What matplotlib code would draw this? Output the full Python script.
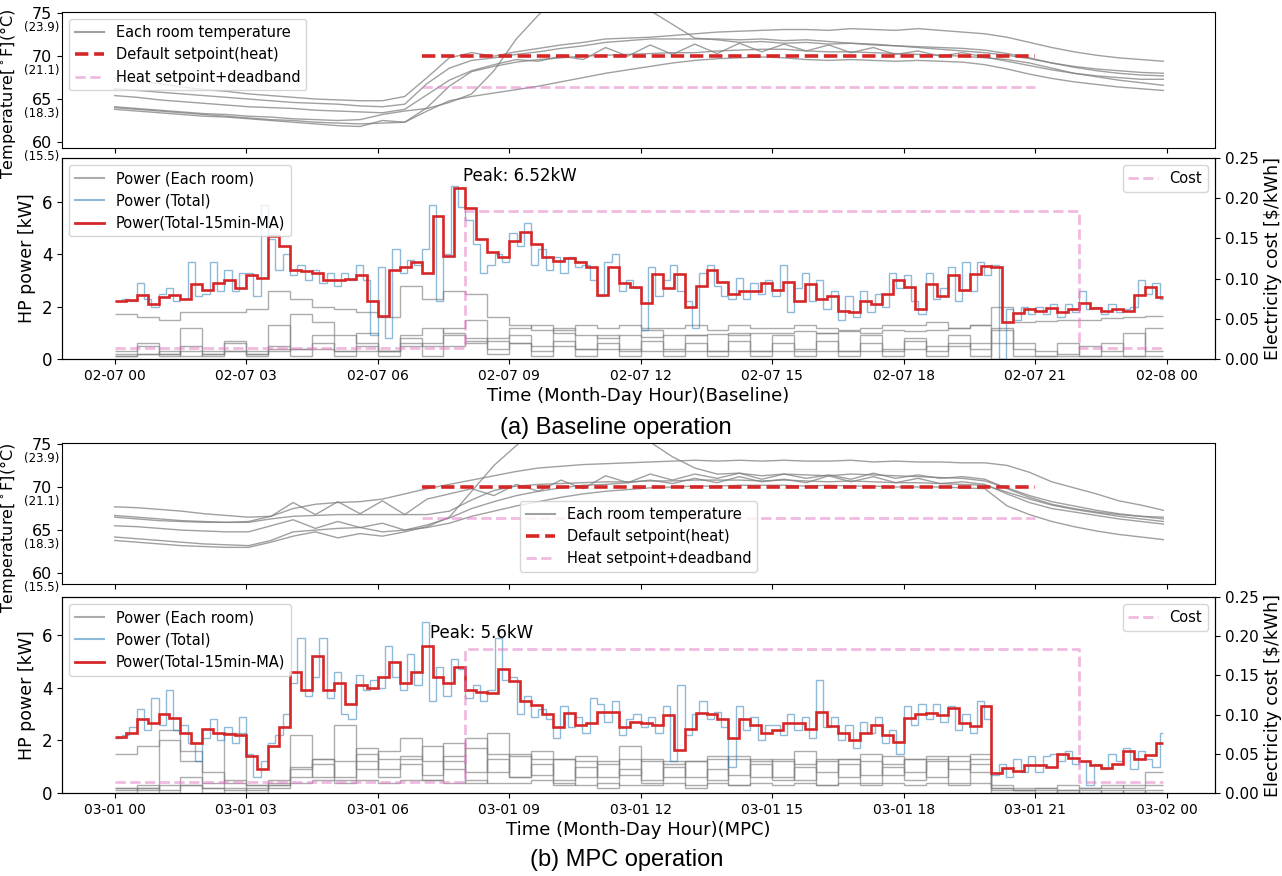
import numpy as np
import matplotlib
matplotlib.use("Agg")
import matplotlib.pyplot as plt
from matplotlib.lines import Line2D

# ---------------- data ----------------
T_END = 23.92  # last sample of the day (hours)

xtick_hours = [0, 3, 6, 9, 12, 15, 18, 21, 24]
xlabels_a = ['02-07 00', '02-07 03', '02-07 06', '02-07 09', '02-07 12',
             '02-07 15', '02-07 18', '02-07 21', '02-08 00']
xlabels_b = ['03-01 00', '03-01 03', '03-01 06', '03-01 09', '03-01 12',
             '03-01 15', '03-01 18', '03-01 21', '03-02 00']

temp_ticks = [60, 65, 70, 75]
temp_ticks_c = ['(15.5)', '(18.3)', '(21.1)', '(23.9)']

setpoint_hours = [7, 21]
setpoint_heat = 70.0
setpoint_deadband = 66.4

cost_hours = [0, 8, 22, T_END]
cost_rate = [0.014, 0.184, 0.014, 0.014]

# room temperatures, ~30 min samples  (F)
temps_a_1 = [67.4, 67.1, 66.8, 66.4, 66.1, 65.9, 65.6, 65.4, 65.2, 65.0, 64.9, 64.8,
             64.8, 65.3, 67.5, 69.8, 70.4, 70.0, 70.5, 70.9, 71.3, 71.6, 72.0, 72.1,
             72.2, 72.4, 72.6, 72.8, 72.9, 73.0, 73.1, 73.1, 73.0, 73.2, 73.1, 73.0,
             73.2, 73.0, 72.8, 72.6, 72.2, 71.6, 71.0, 70.5, 70.1, 69.8, 69.6, 69.4]
temps_a_2 = [66.2, 66.0, 65.8, 65.6, 65.4, 65.2, 65.0, 64.8, 64.6, 64.5, 64.4, 64.2,
             64.1, 64.4, 66.8, 68.6, 69.5, 69.8, 70.2, 70.5, 70.9, 71.2, 71.6, 71.8,
             72.0, 72.0, 72.0, 72.0, 71.9, 72.0, 71.8, 71.9, 71.7, 71.5, 71.4, 71.2,
             71.0, 70.8, 70.6, 70.4, 70.1, 69.7, 69.2, 68.8, 68.5, 68.3, 68.1, 68.0]
temps_a_3 = [65.4, 65.2, 64.9, 64.7, 64.5, 64.3, 64.1, 64.0, 63.9, 63.7, 63.6, 63.5,
             63.4, 63.8, 65.5, 67.2, 68.3, 69.0, 69.6, 69.4, 70.0, 69.6, 71.0, 70.0,
             71.3, 70.2, 71.4, 70.3, 71.5, 70.5, 71.4, 70.6, 71.3, 70.4, 71.0, 70.2,
             70.6, 70.0, 70.4, 69.9, 69.4, 68.9, 68.4, 68.0, 67.7, 67.5, 67.3, 67.3]
temps_a_4 = [64.0, 63.8, 63.6, 63.4, 63.2, 63.0, 62.8, 62.6, 62.5, 62.3, 62.2, 62.1,
             62.2, 62.3, 64.0, 66.5, 68.2, 68.8, 69.3, 69.6, 69.8, 70.0, 70.1, 70.2,
             70.3, 70.4, 70.4, 70.6, 70.7, 70.8, 70.8, 70.6, 70.5, 70.5, 70.4, 70.3,
             70.2, 70.1, 70.0, 69.8, 69.6, 69.2, 68.6, 68.0, 67.6, 67.2, 66.9, 66.6]
temps_a_5 = [63.8, 63.6, 63.4, 63.2, 63.0, 62.9, 62.7, 62.5, 62.3, 62.1, 61.9, 61.8,
             62.5, 62.3, 63.6, 64.8, 65.3, 65.7, 66.1, 66.5, 67.0, 67.5, 68.0, 68.4,
             68.8, 69.2, 69.5, 69.7, 69.8, 69.9, 69.8, 69.6, 69.5, 69.6, 69.5, 69.4,
             69.5, 69.4, 69.3, 69.0, 68.5, 67.9, 67.4, 67.0, 66.7, 66.4, 66.2, 66.0]
temps_a_6 = [64.1, 63.9, 63.7, 63.5, 63.3, 63.2, 63.0, 62.9, 62.7, 62.6, 62.5, 62.6,
             63.2, 63.6, 63.9, 64.6, 65.6, 68.3, 72.0, 74.8, 77.5, 78.3, 78.0, 76.8,
             75.3, 73.7, 72.1, 71.9, 71.6, 71.7, 71.5, 71.6, 71.4, 71.5, 71.3, 71.2,
             71.1, 71.0, 70.9, 70.7, 70.3, 69.8, 69.2, 68.7, 68.3, 68.0, 67.8, 67.7]

temps_b_1 = [67.7, 67.6, 67.4, 67.2, 66.9, 66.7, 66.5, 66.6, 67.5, 68.0, 68.2, 68.3,
             68.6, 69.2, 69.8, 70.3, 70.8, 71.3, 71.8, 72.2, 72.4, 72.6, 72.7, 72.8,
             72.9, 73.0, 73.1, 73.0, 73.1, 73.0, 73.1, 73.0, 73.0, 73.1, 72.9, 73.0,
             72.9, 72.9, 72.8, 72.8, 72.5, 71.7, 70.6, 69.9, 69.2, 68.4, 67.9, 67.3]
temps_b_2 = [66.7, 66.5, 66.3, 66.1, 66.0, 65.9, 66.0, 66.6, 68.2, 66.8, 68.3, 66.9,
             68.4, 66.8, 68.6, 69.2, 69.8, 69.0, 70.3, 69.5, 70.8, 69.8, 71.3, 70.5,
             71.5, 70.8, 71.5, 71.0, 71.6, 70.9, 71.5, 71.0, 71.4, 70.9, 71.6, 71.0,
             71.4, 71.0, 71.2, 70.9, 69.8, 68.8, 68.0, 67.5, 67.1, 66.8, 66.6, 66.5]
temps_b_3 = [66.5, 66.3, 66.1, 66.0, 65.9, 65.9, 65.9, 66.3, 66.6, 66.7, 66.8, 66.8,
             66.8, 66.8, 66.8, 67.2, 68.5, 69.6, 70.1, 70.3, 70.4, 70.5, 70.6, 70.6,
             70.7, 70.7, 70.8, 70.8, 70.8, 70.7, 70.8, 70.7, 70.6, 70.7, 70.6, 70.5,
             70.5, 70.4, 70.3, 70.2, 69.4, 68.6, 67.9, 67.4, 67.0, 66.6, 66.3, 66.0]
temps_b_4 = [65.5, 65.4, 65.2, 65.0, 64.9, 64.8, 64.8, 65.5, 66.2, 65.2, 66.0, 65.3,
             65.8, 65.0, 65.6, 66.4, 67.5, 68.3, 69.0, 69.5, 69.9, 70.2, 70.3, 70.5,
             70.8, 70.4, 71.0, 70.5, 71.2, 70.6, 70.9, 70.5, 71.3, 70.6, 71.2, 70.5,
             71.0, 70.4, 70.6, 70.3, 69.2, 68.2, 67.5, 67.1, 66.7, 66.3, 66.0, 65.7]
temps_b_5 = [64.2, 64.0, 63.8, 63.6, 63.4, 63.3, 63.2, 63.8, 64.8, 65.0, 65.2, 65.3,
             64.8, 65.0, 65.3, 65.8, 66.6, 67.2, 67.8, 68.3, 68.8, 69.2, 69.5, 69.7,
             69.9, 70.0, 70.1, 70.1, 70.2, 70.2, 70.2, 70.1, 70.2, 70.1, 70.1, 70.0,
             70.0, 70.0, 69.9, 69.8, 67.8, 66.8, 66.0, 65.4, 64.9, 64.5, 64.2, 63.9]
temps_b_6 = [63.8, 63.6, 63.4, 63.2, 63.1, 63.0, 63.0, 63.6, 64.3, 64.8, 64.1, 64.6,
             64.3, 64.8, 65.4, 66.5, 69.5, 72.5, 74.8, 77.0, 78.2, 78.5, 78.0, 76.8,
             75.2, 73.5, 72.2, 71.5, 71.6, 71.3, 71.5, 71.4, 71.3, 71.5, 71.4, 71.3,
             71.2, 71.1, 71.0, 70.7, 69.9, 69.0, 68.3, 67.8, 67.3, 66.9, 66.6, 66.3]

# each room power, 30 min steps (kW)
rooms_a_1 = [1.7, 1.6, 1.5, 1.8, 1.8, 1.8, 1.9, 2.6, 2.3, 2.0, 1.9, 1.8,
             1.6, 2.8, 2.3, 2.6, 2.5, 1.6, 1.3, 1.1, 1.0, 0.9, 0.8, 0.9,
             0.85, 0.9, 0.9, 0.95, 0.9, 1.0, 1.0, 1.05, 1.0, 1.05, 1.0, 1.1,
             1.05, 1.1, 1.2, 1.3, 2.0, 1.4, 1.45, 1.5, 1.5, 1.55, 1.6, 1.65]
rooms_a_2 = [0.3, 0.5, 0.2, 1.2, 0.3, 0.6, 0.2, 1.3, 0.4, 0.9, 0.3, 1.0,
             0.3, 0.8, 0.5, 1.2, 1.5, 0.4, 0.9, 0.3, 1.2, 0.4, 0.9, 0.3,
             1.1, 0.4, 0.9, 0.3, 1.0, 0.3, 0.9, 0.4, 1.0, 0.3, 0.9, 0.3,
             0.8, 0.3, 0.9, 0.4, 1.1, 0.4, 0.3, 0.2, 0.5, 0.3, 1.0, 0.3]
rooms_a_3 = [0.1, 0.2, 0.3, 0.1, 0.2, 0.3, 0.2, 0.4, 1.7, 1.4, 0.9, 0.6,
             0.3, 0.9, 1.2, 1.0, 0.6, 0.8, 1.2, 1.3, 1.1, 1.3, 1.2, 1.3,
             1.2, 1.2, 1.3, 1.1, 1.3, 1.2, 1.2, 1.3, 1.2, 1.1, 1.2, 1.3,
             1.3, 1.4, 1.2, 1.3, 0.0, 0.0, 0.0, 0.0, 0.0, 0.0, 0.0, 0.0]
rooms_a_4 = [0.1, 0.6, 0.1, 0.5, 0.1, 0.7, 0.1, 0.5, 0.1, 0.6, 0.1, 0.5,
             0.1, 0.6, 0.1, 0.5, 0.7, 0.2, 0.6, 0.1, 0.7, 0.1, 0.6, 0.1,
             0.7, 0.1, 0.6, 0.1, 0.7, 0.1, 0.6, 0.1, 0.7, 0.1, 0.6, 0.1,
             0.7, 0.1, 0.6, 0.1, 0.6, 0.6, 0.1, 0.6, 0.1, 0.6, 0.1, 1.2]
rooms_a_5 = [0.2, 0.2, 0.2, 0.3, 0.2, 0.3, 0.3, 0.3, 0.4, 0.4, 0.3, 0.3,
             0.3, 0.5, 0.6, 0.9, 0.8, 0.7, 0.6, 0.5, 0.5, 0.4, 0.4, 0.4,
             0.3, 0.3, 0.3, 0.3, 0.3, 0.3, 0.3, 0.3, 0.3, 0.3, 0.3, 0.4,
             0.4, 0.5, 0.5, 0.6, 1.2, 0.1, 0.1, 0.1, 0.1, 0.1, 0.1, 0.1]

rooms_b_1 = [1.5, 1.8, 2.0, 1.6, 0.8, 0.4, 0.3, 0.5, 1.0, 1.3, 1.2, 1.5,
             1.3, 1.4, 1.2, 1.4, 2.1, 1.5, 1.4, 1.3, 1.3, 1.2, 1.1, 1.3,
             1.2, 1.1, 1.2, 1.3, 1.3, 1.2, 1.3, 1.1, 1.2, 1.3, 1.2, 1.1,
             1.3, 1.4, 1.2, 1.3, 0.1, 0.1, 0.2, 0.1, 0.2, 0.2, 0.3, 0.8]
rooms_b_2 = [0.2, 0.1, 2.4, 1.2, 0.4, 2.3, 0.3, 0.2, 2.2, 0.6, 2.6, 0.9,
             1.6, 2.1, 0.5, 1.9, 0.4, 2.3, 0.6, 1.6, 0.3, 1.4, 0.2, 1.8,
             0.4, 1.2, 0.2, 1.4, 0.3, 1.3, 0.5, 1.6, 0.3, 1.3, 0.4, 1.4,
             0.5, 1.3, 0.4, 1.5, 0.2, 0.1, 0.0, 0.1, 0.0, 0.1, 0.0, 0.1]
rooms_b_3 = [0.1, 0.3, 0.1, 0.6, 0.2, 0.5, 0.1, 0.4, 0.9, 1.3, 0.6, 1.7,
             0.9, 1.3, 1.8, 0.9, 1.7, 0.8, 1.5, 0.7, 1.3, 0.6, 1.2, 0.7,
             1.3, 0.6, 1.2, 0.5, 1.4, 0.6, 1.2, 0.5, 1.3, 0.6, 1.5, 0.7,
             1.3, 0.6, 1.4, 0.8, 0.2, 0.1, 0.1, 0.0, 0.1, 0.0, 0.1, 0.0]
rooms_b_4 = [0.2, 0.2, 0.3, 0.3, 0.2, 0.1, 0.2, 0.3, 0.4, 0.5, 0.4, 0.5,
             0.4, 0.5, 0.5, 0.4, 0.5, 0.4, 0.4, 0.5, 0.4, 0.3, 0.4, 0.3,
             0.3, 0.4, 0.3, 0.4, 0.3, 0.4, 0.3, 0.4, 0.3, 0.4, 0.3, 0.4,
             0.3, 0.4, 0.3, 0.4, 0.3, 0.2, 0.2, 0.3, 0.2, 0.3, 0.2, 0.3]
rooms_b_5 = [0.0, 0.2, 0.0, 0.3, 0.0, 0.2, 0.0, 0.3, 0.6, 1.1, 0.5, 1.2,
             0.6, 1.1, 0.7, 1.2, 0.8, 1.3, 0.6, 1.1, 0.5, 1.0, 0.6, 0.9,
             0.5, 1.0, 0.6, 0.9, 0.7, 1.1, 0.6, 1.0, 0.8, 1.1, 0.7, 1.0,
             0.8, 1.2, 0.9, 1.1, 0.0, 0.0, 0.0, 0.0, 0.0, 0.0, 0.0, 0.0]

# total power, 10 min steps (kW)
total_a = [2.2, 2.3, 2.2, 2.9, 2.3, 2.0,
           2.5, 2.7, 2.2, 2.3, 3.7, 2.4,
           2.5, 3.7, 2.6, 3.4, 2.6, 3.3,
           3.3, 2.4, 5.9, 4.6, 3.4, 4.0,
           3.2, 3.6, 3.0, 3.4, 2.9, 3.3,
           2.8, 3.3, 3.0, 3.6, 3.0, 0.9,
           3.5, 0.8, 4.2, 3.3, 3.8, 3.6,
           4.2, 5.9, 2.2, 4.0, 6.6, 5.8,
           5.3, 4.4, 3.3, 3.6, 4.0, 3.7,
           4.8, 4.3, 5.2, 3.6, 4.2, 3.4,
           3.9, 3.3, 3.9, 3.5, 3.6, 3.0,
           2.4, 3.7, 4.0, 2.6, 3.0, 2.7,
           1.1, 3.5, 2.4, 3.0, 3.6, 2.6,
           2.2, 1.2, 3.3, 3.6, 2.8, 2.4,
           2.3, 3.1, 2.3, 2.9, 2.5, 3.0,
           2.4, 3.6, 1.8, 2.7, 3.3, 2.2,
           3.0, 1.9, 2.6, 1.5, 2.4, 1.6,
           2.6, 1.8, 2.5, 2.0, 3.3, 2.7,
           3.2, 2.2, 1.7, 3.3, 2.3, 2.7,
           3.5, 2.2, 3.7, 2.6, 3.7, 3.2,
           3.6, 0.0, 1.9, 1.5, 2.0, 1.7,
           2.0, 1.7, 2.1, 1.6, 2.1, 1.8,
           2.6, 1.9, 2.0, 1.7, 2.1, 1.8,
           1.9, 2.0, 3.0, 2.5, 2.9, 2.3]
total_b = [2.1, 2.2, 2.5, 3.2, 2.4, 3.6,
           2.6, 3.9, 2.4, 2.6, 1.9, 1.2,
           2.1, 2.8, 2.0, 2.5, 1.9, 2.9,
           1.5, 0.6, 1.2, 1.9, 2.2, 3.0,
           4.2, 5.9, 3.7, 4.4, 5.9, 3.6,
           4.6, 3.0, 2.8, 4.5, 3.9, 4.3,
           4.0, 5.6, 4.4, 3.9, 5.3, 4.1,
           6.5, 3.5, 4.8, 3.7, 5.1, 4.7,
           3.6, 4.1, 3.5, 3.9, 5.9, 4.3,
           4.4, 3.0, 3.7, 2.9, 3.2, 2.8,
           2.1, 3.3, 2.5, 2.9, 2.3, 3.6,
           3.4, 2.7, 3.5, 2.2, 2.8, 3.0,
           2.5, 2.9, 2.3, 3.3, 1.2, 4.1,
           2.2, 3.0, 3.5, 2.8, 3.1, 2.5,
           1.0, 3.3, 2.4, 2.9, 2.0, 2.6,
           2.6, 2.2, 3.0, 2.4, 2.9, 2.1,
           4.3, 2.5, 2.9, 2.0, 2.6, 1.7,
           2.7, 2.3, 2.9, 1.9, 2.4, 1.5,
           3.3, 2.6, 3.4, 2.8, 3.4, 2.7,
           3.3, 2.4, 3.0, 2.3, 3.5, 2.8,
           0.7, 1.1, 0.6, 1.3, 0.8, 1.4,
           0.8, 1.4, 1.5, 1.2, 1.6, 1.1,
           1.2, 0.3, 1.1, 0.9, 1.5, 1.2,
           1.7, 0.9, 1.6, 1.3, 1.0, 2.3]

# 15 min moving average of total power (kW)
ma_a = [2.2, 2.25, 2.45, 2.1, 2.35, 2.45, 2.3, 2.85, 2.65, 2.9, 3.0, 2.7, 3.2, 3.1, 4.7, 4.3,
        3.4, 3.35, 3.3, 3.0, 3.0, 3.05, 3.2, 2.2, 1.65, 3.4, 3.5, 3.7, 3.3, 5.45, 3.95, 6.52,
        5.75, 4.6, 4.1, 3.9, 4.5, 4.85, 4.4, 3.9, 3.75, 3.85, 3.7, 3.5, 2.45, 3.5, 2.9, 2.75,
        2.15, 3.25, 2.7, 3.25, 2.0, 2.8, 3.4, 2.95, 2.5, 2.6, 2.6, 2.9, 2.65, 2.95, 2.2, 2.85,
        2.3, 2.4, 1.85, 1.8, 2.2, 2.1, 2.5, 3.0, 2.75, 1.9, 2.85, 2.4, 3.2, 2.65, 3.25, 3.55,
        3.5, 1.4, 1.75, 1.9, 1.85, 1.95, 1.8, 1.9, 2.15, 1.95, 1.85, 1.9, 1.85, 2.45, 2.75, 2.35]
ma_b = [2.12, 2.3, 2.8, 2.65, 3.0, 2.85, 2.3, 1.9, 2.45, 2.3, 2.25, 2.2, 1.4, 0.9, 1.8, 2.5,
        4.6, 3.9, 5.2, 3.9, 4.2, 3.4, 4.1, 4.0, 4.4, 5.0, 4.2, 4.6, 5.6, 4.4, 4.2, 4.8,
        3.9, 3.85, 3.8, 4.7, 4.25, 3.5, 3.35, 3.0, 2.5, 3.05, 2.6, 2.65, 3.1, 3.1, 2.5, 2.7,
        2.65, 2.6, 2.95, 1.65, 2.45, 3.05, 3.0, 2.8, 2.1, 2.8, 2.6, 2.3, 2.4, 2.65, 2.65, 2.45,
        3.1, 2.55, 2.3, 2.0, 2.3, 2.6, 2.2, 1.95, 2.85, 3.0, 3.05, 2.95, 3.25, 2.65, 2.55, 3.3,
        0.75, 0.95, 0.82, 1.05, 1.05, 1.0, 1.5, 1.33, 1.2, 1.05, 0.95, 1.1, 1.58, 1.3, 1.45, 1.9]

temps_a = [temps_a_1, temps_a_2, temps_a_3, temps_a_4, temps_a_5, temps_a_6]
temps_b = [temps_b_1, temps_b_2, temps_b_3, temps_b_4, temps_b_5, temps_b_6]
rooms_a = [rooms_a_1, rooms_a_2, rooms_a_3, rooms_a_4, rooms_a_5]
rooms_b = [rooms_b_1, rooms_b_2, rooms_b_3, rooms_b_4, rooms_b_5]

XLIM = (-1.2, 25.1)
GRAY = 'gray'
BLUE = 'tab:blue'
RED = 'tab:red'
PINK = 'tab:pink'


def stairs(ax, vals, dt, **kw):
    edges = np.arange(len(vals) + 1) * dt
    edges[-1] = min(edges[-1], T_END)
    ax.stairs(vals, edges, baseline=None, **kw)


def temp_panel(ax, temps, ylim, legend_kw):
    for vals in temps:
        ax.plot(np.linspace(0, T_END, len(vals)), vals, color=GRAY, alpha=0.75, lw=1)
    ax.plot(setpoint_hours, [setpoint_heat] * 2, ls='--', color=RED, lw=2.6)
    ax.plot(setpoint_hours, [setpoint_deadband] * 2, ls='--', color=PINK, alpha=0.5, lw=2)
    ax.set_xlim(XLIM)
    ax.set_ylim(ylim)
    ax.set_xticks(xtick_hours)
    ax.set_xticklabels([])
    ax.set_yticks(temp_ticks)
    ax.set_yticklabels([str(v) for v in temp_ticks], fontsize=11.5)
    for v, c in zip(temp_ticks, temp_ticks_c):
        ax.annotate(c, xy=(0, v), xycoords=('axes fraction', 'data'), xytext=(-2, -10.5),
                    textcoords='offset points', ha='right', va='center', fontsize=8.5,
                    annotation_clip=False)
    # long label: shifted down a little so it stays inside the figure
    ax.set_ylabel('Temperature[$^\\circ$F](°C)', fontsize=11.5)
    ax.yaxis.set_label_coords(-0.038, 0.40)
    handles = [Line2D([], [], color=GRAY, alpha=0.75, lw=1.5),
               Line2D([], [], color=RED, ls='--', lw=2.6),
               Line2D([], [], color=PINK, alpha=0.5, ls='--', lw=2)]
    ax.legend(handles, ['Each room temperature', 'Default setpoint(heat)',
                        'Heat setpoint+deadband'], fontsize=10.5, **legend_kw)


def power_panel(ax, rooms, total, ma, xlabels, xname, ytop):
    for vals in rooms:
        stairs(ax, vals, 0.5, color=GRAY, alpha=0.65, lw=1)
    stairs(ax, total, 1 / 6, color=BLUE, alpha=0.5, lw=1)
    stairs(ax, ma, 0.25, color=RED, lw=1.9)
    i = int(np.argmax(ma))
    ax.text(i * 0.25 + 0.2, ma[i] + 0.13, 'Peak: %skW' % ('%.3g' % ma[i]),
            fontsize=12, ha='left', va='bottom')
    ax.set_xlim(XLIM)
    ax.set_ylim(0, ytop)
    ax.set_xticks(xtick_hours)
    ax.set_xticklabels(xlabels, fontsize=10)
    ax.set_yticks([0, 2, 4, 6])
    ax.tick_params(axis='y', labelsize=12)
    ax.set_xlabel(xname, fontsize=13, labelpad=3)
    ax.set_ylabel('HP power [kW]', fontsize=12.5)
    handles = [Line2D([], [], color=GRAY, alpha=0.65, lw=1.5),
               Line2D([], [], color=BLUE, alpha=0.5, lw=1.5),
               Line2D([], [], color=RED, lw=2)]
    ax.legend(handles, ['Power (Each room)', 'Power (Total)', 'Power(Total-15min-MA)'],
              loc='upper left', fontsize=10.5)

    axc = ax.twinx()
    axc.step(cost_hours, cost_rate, where='post', ls='--', color=PINK, alpha=0.5, lw=2,
             label='Cost')
    axc.set_ylim(0, 0.25)
    axc.set_yticks([0, 0.05, 0.10, 0.15, 0.20, 0.25])
    axc.set_yticklabels(['%.2f' % v for v in [0, 0.05, 0.10, 0.15, 0.20, 0.25]], fontsize=11)
    axc.set_ylabel('Electricity cost [\\$/kWh]', fontsize=12.5)
    axc.legend(loc='upper right', fontsize=10.5)


fig = plt.figure(figsize=(12.82, 8.76), dpi=100)
L, W = 0.0484, 0.8994
ax1 = fig.add_axes([L, 0.8311, W, 0.1553])
ax2 = fig.add_axes([L, 0.5902, W, 0.2295])
ax3 = fig.add_axes([L, 0.3333, W, 0.1610])
ax4 = fig.add_axes([L, 0.0947, W, 0.2237])

temp_panel(ax1, temps_a, (59.3, 75.15), dict(loc='upper left'))
power_panel(ax2, rooms_a, total_a, ma_a, xlabels_a, 'Time (Month-Day Hour)(Baseline)', 7.68)

temp_panel(ax3, temps_b, (58.75, 75.1),
           dict(loc='lower center', bbox_to_anchor=(0.5, 0.085), borderaxespad=0))
power_panel(ax4, rooms_b, total_b, ma_b, xlabels_b, 'Time (Month-Day Hour)(MPC)', 7.45)

fig.text(0.48, 1 - 428 / 876, '(a) Baseline operation', ha='center', va='center',
         fontsize=17, family='Liberation Sans')
fig.text(0.489, 1 - 860 / 876, '(b) MPC operation', ha='center', va='center',
         fontsize=17, family='Liberation Sans')

fig.savefig('out.png', dpi=100)
